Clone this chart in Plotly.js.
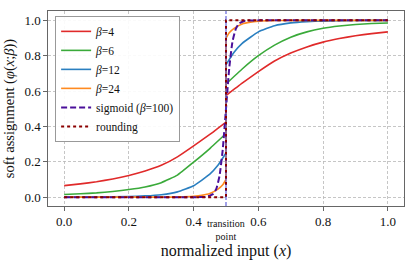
<!DOCTYPE html>
<html>
<head>
<meta charset="utf-8">
<script src="https://cdn.plot.ly/plotly-3.0.1.min.js"></script>
<style>html,body{margin:0;padding:0;background:#fff;}#chart{width:415px;height:260px;}</style>
</head>
<body>
<div id="chart"></div>
<script>
// ----- data -----
// each soft curve: left branch (x <= 0.5) and right branch (x >= 0.5)
const xB4L = [0, 0.05, 0.1, 0.15, 0.2, 0.25, 0.3, 0.35, 0.4, 0.45, 0.5];
const yB4L = [0.065, 0.075, 0.087, 0.103, 0.123, 0.148, 0.18, 0.228, 0.29, 0.355, 0.425];
const xB4R = [0.5, 0.55, 0.6, 0.65, 0.7, 0.75, 0.8, 0.85, 0.9, 0.95, 1.0];
const yB4R = [0.575, 0.645, 0.71, 0.77, 0.815, 0.85, 0.877, 0.897, 0.913, 0.925, 0.935];

const xB6L = [0, 0.05, 0.1, 0.15, 0.2, 0.25, 0.3, 0.35, 0.4, 0.45, 0.5];
const yB6L = [0.015, 0.019, 0.024, 0.032, 0.043, 0.058, 0.082, 0.125, 0.198, 0.275, 0.36];
const xB6R = [0.5, 0.55, 0.6, 0.65, 0.7, 0.75, 0.8, 0.85, 0.9, 0.95, 1.0];
const yB6R = [0.64, 0.725, 0.80, 0.86, 0.905, 0.935, 0.955, 0.968, 0.977, 0.982, 0.985];

const xB12L = [0, 0.1, 0.2, 0.25, 0.3, 0.35, 0.4, 0.45, 0.475, 0.5];
const yB12L = [0.0, 0.001, 0.004, 0.007, 0.014, 0.03, 0.065, 0.13, 0.18, 0.25];
const xB12R = [0.5, 0.525, 0.55, 0.6, 0.65, 0.7, 0.75, 0.8, 0.9, 1.0];
const yB12R = [0.75, 0.82, 0.87, 0.935, 0.97, 0.986, 0.993, 0.996, 0.999, 1.0];

const xB24L = [0, 0.3, 0.35, 0.4, 0.425, 0.45, 0.475, 0.49, 0.5];
const yB24L = [0, 0.0, 0.001, 0.005, 0.01, 0.02, 0.045, 0.07, 0.1];
const xB24R = [0.5, 0.51, 0.525, 0.55, 0.575, 0.6, 0.65, 0.7, 1.0];
const yB24R = [0.9, 0.93, 0.955, 0.98, 0.99, 0.995, 0.999, 1.0, 1.0];

const xSig = [0, 0.4, 0.44, 0.46, 0.47, 0.48, 0.49, 0.5, 0.51, 0.52, 0.53, 0.54, 0.56, 0.6, 1.0];
const ySig = [0, 0, 0.002, 0.018, 0.047, 0.12, 0.27, 0.5, 0.73, 0.88, 0.95, 0.982, 0.998, 1, 1];

const xRound = [0, 0.5, 0.5, 1.0];
const yRound = [0, 0, 1, 1];

const transitionX = 0.5;
const xTicks = [0, 0.2, 0.4, 0.6, 0.8, 1.0];
const xTickText = ['0.0', '0.2', '0.4', '0.6', '0.8', '1.0'];
const yTicks = [0, 0.2, 0.4, 0.6, 0.8, 1.0];
const yTickText = ['0.0', '0.2', '0.4', '0.6', '0.8', '1.0'];

const FONT = 'Times New Roman, Liberation Serif, serif';

function softCurve(name, color, xL, yL, xR, yR) {
  const line = {color: color, width: 1.6, shape: 'spline', smoothing: 0.4};
  return [
    {x: xL, y: yL, name: name, legendgroup: name, mode: 'lines', line: line},
    {x: [xL[xL.length - 1], xR[0]], y: [yL[yL.length - 1], yR[0]], legendgroup: name, showlegend: false,
     mode: 'lines', line: {color: color, width: 1.6}},
    {x: xR, y: yR, legendgroup: name, showlegend: false, mode: 'lines', line: line}
  ];
}

const traces = [].concat(
  softCurve('<i>β</i>=4', '#e02a2a', xB4L, yB4L, xB4R, yB4R),
  softCurve('<i>β</i>=6', '#3aaa3a', xB6L, yB6L, xB6R, yB6R),
  softCurve('<i>β</i>=12', '#2a7fc0', xB12L, yB12L, xB12R, yB12R),
  softCurve('<i>β</i>=24', '#ff8a1f', xB24L, yB24L, xB24R, yB24R),
  [
    {x: xSig, y: ySig, name: 'sigmoid (<i>β</i>=100)', mode: 'lines', line: {color: '#4a0f9a', width: 2, dash: '6px,3px', shape: 'spline', smoothing: 0.4}},
    {x: xRound, y: yRound, name: 'rounding', mode: 'lines', line: {color: '#8b0000', width: 2, dash: 'dot'}}
  ]
);

const axisCommon = {
  showline: true, mirror: true, linecolor: '#666', linewidth: 1.2,
  ticks: 'outside', ticklen: 3.5, tickcolor: '#666',
  showgrid: true, gridcolor: '#b8b8b8', griddash: '3px,2px', gridwidth: 0.8,
  zeroline: false,
  tickfont: {family: FONT, size: 13, color: '#111'}
};

const layout = {
  width: 415, height: 260,
  margin: {l: 48, r: 11, t: 11, b: 54},
  paper_bgcolor: '#fff', plot_bgcolor: '#fff',
  font: {family: FONT, color: '#111'},
  showlegend: true,
  legend: {
    x: 0.02, y: 0.975, xanchor: 'left', yanchor: 'top',
    bgcolor: 'rgba(255,255,255,0.9)', bordercolor: '#999', borderwidth: 1,
    font: {family: FONT, size: 11.5, color: '#111'},
    tracegroupgap: 0, itemwidth: 30
  },
  xaxis: Object.assign({}, axisCommon, {
    range: [-0.05, 1.05], tickvals: xTicks, ticktext: xTickText,
    title: {text: 'normalized input (<i>x</i>)', font: {family: FONT, size: 16, color: '#111'}, standoff: 16}
  }),
  yaxis: Object.assign({}, axisCommon, {
    range: [-0.05, 1.053], tickvals: yTicks, ticktext: yTickText,
    title: {text: 'soft assignment (<i>φ</i>(<i>x</i>;<i>β</i>))', font: {family: FONT, size: 14.5, color: '#111'}, standoff: 6}
  }),
  shapes: [
    {type: 'line', xref: 'x', yref: 'paper', x0: transitionX, x1: transitionX, y0: 0, y1: 1,
     line: {color: 'rgba(70,70,210,0.85)', width: 1.2, dash: '4px,2px'}, layer: 'above'}
  ],
  annotations: [
    {xref: 'x', yref: 'paper', x: transitionX, y: -0.05, yanchor: 'top', xanchor: 'center',
     text: 'transition<br>point', showarrow: false, align: 'center',
     font: {family: FONT, size: 10, color: '#111'}}
  ]
};

Plotly.newPlot('chart', traces, layout, {displayModeBar: false, staticPlot: true});
</script>
</body>
</html>
